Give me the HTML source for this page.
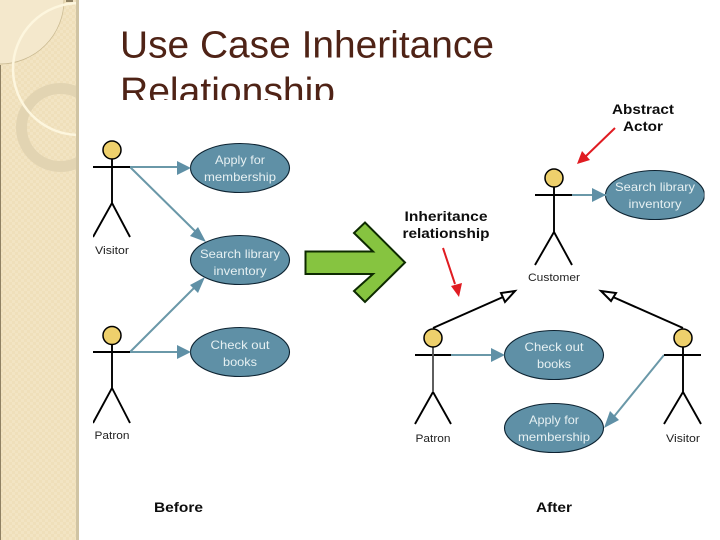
<!DOCTYPE html>
<html><head><meta charset="utf-8"><style>
html,body{margin:0;padding:0;background:#fff;width:720px;height:540px;overflow:hidden}
svg{display:block;font-family:"Liberation Sans",sans-serif}
</style></head><body>
<svg width="720" height="540" viewBox="0 0 720 540" xmlns="http://www.w3.org/2000/svg">
<defs>
<clipPath id="side"><rect x="0" y="0" width="76" height="540"/></clipPath>
<clipPath id="title"><rect x="100" y="0" width="500" height="100"/></clipPath>
<pattern id="chk" width="6" height="6" patternUnits="userSpaceOnUse"><rect width="3" height="3" fill="#f2e4c3"/><rect x="3" y="3" width="3" height="3" fill="#f2e4c3"/></pattern>
<filter id="soft" x="0" y="0" width="100%" height="100%"><feGaussianBlur stdDeviation="0.35"/></filter>
</defs>
<rect width="720" height="540" fill="#fff"/>
<rect x="0" y="0" width="79" height="540" fill="#efdfba"/>
<rect x="0" y="0" width="79" height="540" fill="url(#chk)"/>
<rect x="76" y="0" width="3" height="540" fill="#d0c4a4"/>
<rect x="0" y="65" width="1" height="475" fill="#8f8163"/>
<g clip-path="url(#side)">
<circle cx="0" cy="0" r="64" fill="#f4e8cc" stroke="#c8b890" stroke-width="0.7"/>
<circle cx="60.500" cy="127.500" r="39" fill="none" stroke="#e2d4b2" stroke-width="11"/>
<circle cx="79" cy="69" r="66" fill="none" stroke="#fdf6de" stroke-width="2.500"/>
</g>
<rect x="66" y="0" width="7" height="2" fill="#8f8163"/>
<g clip-path="url(#title)" fill="#4f2316" font-size="38">
<text x="120" y="57.500" textLength="374" lengthAdjust="spacingAndGlyphs">Use Case Inheritance</text>
<text x="120" y="104" textLength="215" lengthAdjust="spacingAndGlyphs">Relationship</text>
</g>

<g filter="url(#soft)">
<!-- blue ellipses -->
<g fill="#5f90a6" stroke="#0d2430" stroke-width="1.100">
<ellipse cx="240" cy="168" rx="49.500" ry="24.500"/>
<ellipse cx="240" cy="260" rx="49.500" ry="24.500"/>
<ellipse cx="240" cy="352" rx="49.500" ry="24.500"/>
<ellipse cx="655" cy="195" rx="49.500" ry="24.500"/>
<ellipse cx="554" cy="355" rx="49.500" ry="24.500"/>
<ellipse cx="554" cy="428" rx="49.500" ry="24.500"/>
</g>
<g fill="#e6f0f2" font-size="12" text-anchor="middle">
<text x="240" y="164" textLength="50" lengthAdjust="spacingAndGlyphs">Apply for</text><text x="240" y="181" textLength="72" lengthAdjust="spacingAndGlyphs">membership</text>
<text x="240" y="258" textLength="80" lengthAdjust="spacingAndGlyphs">Search library</text><text x="240" y="275" textLength="53" lengthAdjust="spacingAndGlyphs">inventory</text>
<text x="240" y="349" textLength="59" lengthAdjust="spacingAndGlyphs">Check out</text><text x="240" y="366" textLength="34" lengthAdjust="spacingAndGlyphs">books</text>
<text x="655" y="191" textLength="80" lengthAdjust="spacingAndGlyphs">Search library</text><text x="655" y="208" textLength="53" lengthAdjust="spacingAndGlyphs">inventory</text>
<text x="554" y="351" textLength="59" lengthAdjust="spacingAndGlyphs">Check out</text><text x="554" y="368" textLength="34" lengthAdjust="spacingAndGlyphs">books</text>
<text x="554" y="424" textLength="50" lengthAdjust="spacingAndGlyphs">Apply for</text><text x="554" y="441" textLength="72" lengthAdjust="spacingAndGlyphs">membership</text>
</g>

<!-- blue connectors -->
<g stroke="#6a98a8" stroke-width="2" fill="none">
<path d="M130 167H180M130 167L197 233"/>
<path d="M130 352L195 287M130 352H180"/>
<path d="M572 195H607"/>
<path d="M451 355H495"/>
<path d="M664 355L612 419"/>
</g>
<g fill="#5f90a6">
<path d="M191 168L177 161V175Z"/>
<path d="M206 242L198 227L190 236Z"/>
<path d="M205 277L190 285L198 293Z"/>
<path d="M191 352L177 345V359Z"/>
<path d="M606 195L592 188V202Z"/>
<path d="M505 355L491 348V362Z"/>
<path d="M604 428L619 420L610 411Z"/>
</g>

<!-- actors -->
<g fill="none" stroke="#000" stroke-width="1.900">
<path d="M93 167H130M112 159V203M93 237L112 203L130 237"/>
<path d="M93 352H130M112 344V388M93 423L112 388L130 423"/>
<path d="M535 195H572M554 187V232M535 265L554 232L572 265"/>
<path d="M415 355H451M433 392L415 424M433 392L451 424"/>
<path d="M433 347V392" stroke="#555"/>
<path d="M664 355H701M683 347V392M683 392L664 424M683 392L701 424"/>
</g>
<g fill="#eed06c" stroke="#000" stroke-width="1.500">
<circle cx="112" cy="150" r="9"/>
<circle cx="112" cy="335.500" r="9"/>
<circle cx="554" cy="178" r="9"/>
<circle cx="433" cy="338" r="9"/>
<circle cx="683" cy="338" r="9"/>
</g>
<g fill="#222" font-size="11" text-anchor="middle">
<text x="112" y="254" textLength="34" lengthAdjust="spacingAndGlyphs">Visitor</text>
<text x="112" y="439" textLength="35" lengthAdjust="spacingAndGlyphs">Patron</text>
<text x="554" y="281" textLength="52" lengthAdjust="spacingAndGlyphs">Customer</text>
<text x="433" y="442" textLength="35" lengthAdjust="spacingAndGlyphs">Patron</text>
<text x="683" y="442" textLength="34" lengthAdjust="spacingAndGlyphs">Visitor</text>
</g>

<!-- generalization -->
<g fill="none" stroke="#000" stroke-width="2">
<path d="M433 328L503 297"/>
<path d="M683 328L613 297"/>
<path d="M515 291L501 293L505 302Z" fill="#fff"/>
<path d="M601 291L616 293L611 301Z" fill="#fff"/>
</g>

<!-- green arrow -->
<path d="M305.500 251.500H373L354 233L365 222.500L405 262.500L365 302L354 291L373 274H305.500Z" fill="#86c440" stroke="#0c2a00" stroke-width="2"/>

<!-- red arrows -->
<g stroke="#e01a20" stroke-width="2" fill="none">
<path d="M615 128L585 157"/>
<path d="M443 248L455 284"/>
</g>
<g fill="#e01a20">
<path d="M577 164L590 160L582 151Z"/>
<path d="M459 297L462 283L451 286Z"/>
</g>

<!-- bold labels -->
<g fill="#111" font-size="14" font-weight="bold" text-anchor="middle">
<text x="643" y="114" textLength="62" lengthAdjust="spacingAndGlyphs">Abstract</text><text x="643" y="131" textLength="40" lengthAdjust="spacingAndGlyphs">Actor</text>
<text x="446" y="221" textLength="83" lengthAdjust="spacingAndGlyphs">Inheritance</text><text x="446" y="238" textLength="87" lengthAdjust="spacingAndGlyphs">relationship</text>
<text x="178.500" y="512" textLength="49" lengthAdjust="spacingAndGlyphs">Before</text>
<text x="554" y="512" textLength="36" lengthAdjust="spacingAndGlyphs">After</text>
</g>
</g>
</svg>
</body></html>
